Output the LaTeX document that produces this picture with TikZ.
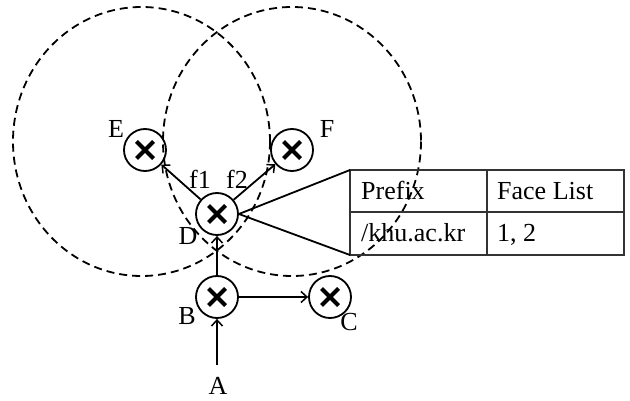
\documentclass[tikz,border=0pt]{standalone}
\usepackage{fontspec}
\setmainfont{Liberation Serif}
\usetikzlibrary{arrows.meta}
\begin{document}
\begin{tikzpicture}[x=1pt,y=-1pt,
  router/.style={circle,draw,line width=1.8pt,minimum size=42pt,inner sep=0pt,
    path picture={\draw[line width=4.2pt]
      ([xshift=-8.5pt,yshift=-8.5pt]path picture bounding box.center) -- ([xshift=8.5pt,yshift=8.5pt]path picture bounding box.center)
      ([xshift=-8.5pt,yshift=8.5pt]path picture bounding box.center) -- ([xshift=8.5pt,yshift=-8.5pt]path picture bounding box.center);}},
  lbl/.style={font=\fontsize{26}{29}\selectfont,inner sep=0pt},
  conn/.style={line width=1.8pt,-{Straight Barb[length=6pt,width=11pt,line width=1.5pt]}},
  rangering/.style={line width=1.8pt,dash pattern=on 8pt off 5pt},
  tline/.style={line width=1.2pt,black!80}]
\useasboundingbox (0,0) rectangle (630,401);
% ranges
\draw[rangering] (141.5,141.5) ellipse [x radius=128.5,y radius=134.5];
\draw[rangering] (292,141.5) ellipse [x radius=129,y radius=134.5];
% routers
\node[router] (E) at (145,150) {};
\node[router] (F) at (292,150) {};
\node[router] (D) at (217,214) {};
\node[router] (B) at (217,297) {};
\node[router] (C) at (330,297) {};
% labels
\node[lbl] (lE) at (116,129) {E};
\node[lbl] (lF) at (327,129) {F};
\node[lbl] (lD) at (188,236) {D};
\node[lbl] (lB) at (187,316) {B};
\node[lbl] (lC) at (349,322) {C};
\node[lbl] (lA) at (218,386) {A};
\node[lbl] (f1) at (200,179) {f1};
\node[lbl] (f2) at (237,179) {f2};
\coordinate (a) at (217,365);
% connectors
\draw[conn] (a) -- (B);
\draw[conn] (B) -- (D);
\draw[conn] (B) -- (C);
\draw[conn] (D) -- (E);
\draw[conn] (D) -- (F);
% table
\coordinate (t1) at (350,170);
\coordinate (t4) at (350,255);
\draw[tline] (350,170) rectangle (624,255);
\draw[tline] (350,212) -- (624,212);
\draw[tline] (487,170) -- (487,255);
\node[lbl,anchor=base west] (p1) at (361,200) {Prefix};
\node[lbl,anchor=base west] (p2) at (497,200) {Face List};
\node[lbl,anchor=base west] (p3) at (361,242) {/khu.ac.kr};
\node[lbl,anchor=base west] (p4) at (497,242) {1, 2};
\draw[line width=1.8pt] (D.east) -- (t1);
\draw[line width=1.8pt] (D.east) -- (t4);
\end{tikzpicture}
\end{document}
